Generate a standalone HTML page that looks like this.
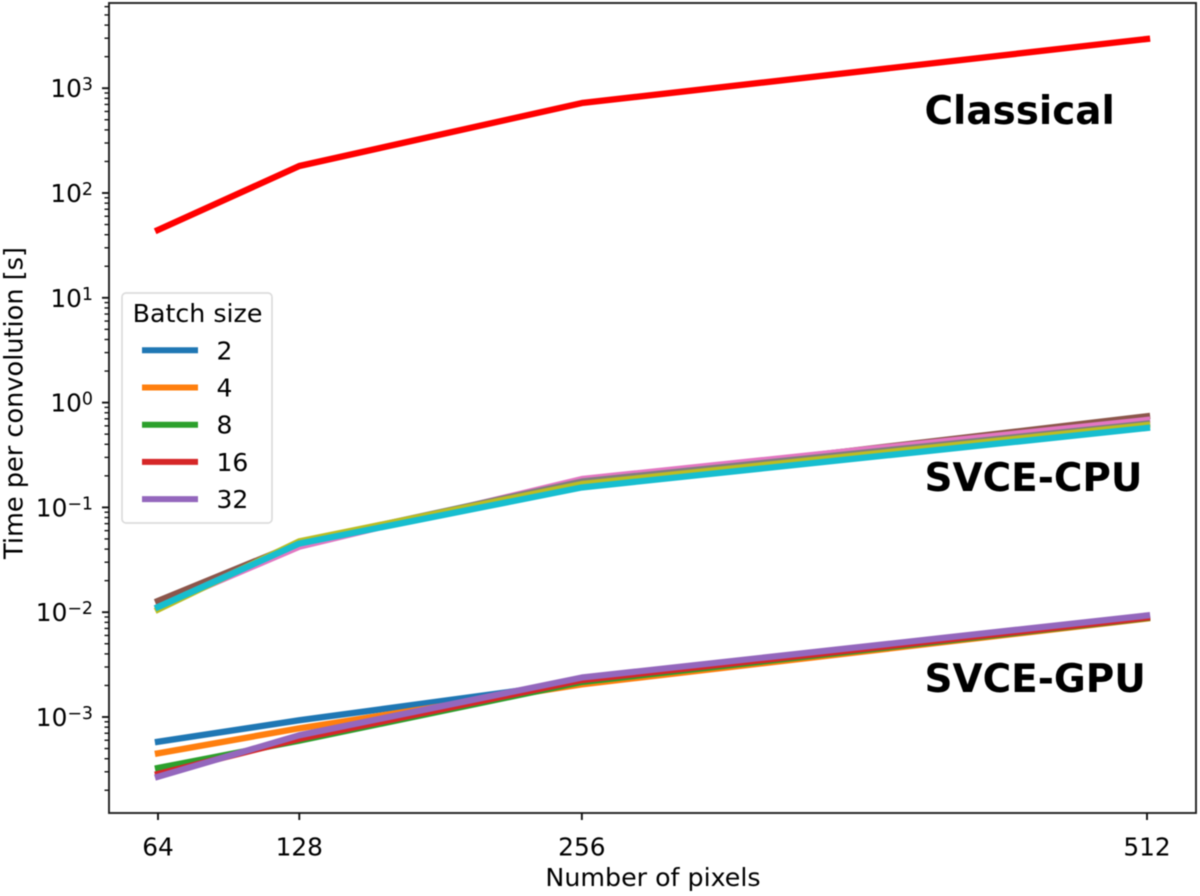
<!DOCTYPE html>
<html>
<head>
<meta charset="utf-8">
<title>Time per convolution</title>
<style>
html,body{margin:0;padding:0;background:#fff;}
svg{display:block;filter:blur(0.45px);}
text{font-family:"DejaVu Sans","Liberation Sans",sans-serif;fill:#000;}
</style>
</head>
<body>
<svg id="chart" xmlns="http://www.w3.org/2000/svg" width="1200" height="896" viewBox="0 0 1200 896">
  <rect x="0" y="0" width="1200" height="896" fill="#fff"/>
  <g id="series-layer"></g>
  <g id="axis-layer"></g>
  <g id="legend-layer"></g>
  <text x="653" y="886" font-size="25.3" text-anchor="middle">Number of pixels</text>
  <text transform="translate(22.5,403) rotate(-90)" font-size="25.6" text-anchor="middle">Time per convolution [s]</text>
  <text x="924.5" y="124" font-size="38.9" font-weight="bold">Classical</text>
  <text x="924.5" y="491" font-size="38.9" font-weight="bold">SVCE-CPU</text>
  <text x="924.5" y="692" font-size="38.9" font-weight="bold">SVCE-GPU</text>
</svg>
<script>
var pixels = [64, 128, 256, 512];
var xTicks = [64, 128, 256, 512];
var yExponents = [-3, -2, -1, 0, 1, 2, 3];
var legendTitle = 'Batch size';
var legendLabels = ['2', '4', '8', '16', '32'];

var classical = [44.4, 181, 722, 2950];

var gpu2 = [0.00058, 0.00093, 0.00215, 0.0088];
var gpu4 = [0.00045, 0.00078, 0.00205, 0.0087];
var gpu8 = [0.000326, 0.000595, 0.00216, 0.0088];
var gpu16 = [0.000286, 0.00062, 0.00225, 0.0089];
var gpu32 = [0.000269, 0.00067, 0.00238, 0.0093];

var cpu2 = [0.0128, 0.0457, 0.174, 0.74];
var cpu4 = [0.0112, 0.0422, 0.1866, 0.682];
var cpu8 = [0.0112, 0.0462, 0.1766, 0.63];
var cpu16 = [0.0106, 0.0475, 0.167, 0.61];
var cpu32 = [0.0112, 0.0452, 0.155, 0.573];

var gpuColors = ['#1f77b4', '#ff7f0e', '#2ca02c', '#d62728', '#9467bd'];
var cpuColors = ['#8c564b', '#e377c2', '#7f7f7f', '#bcbd22', '#17becf'];

var NS = 'http://www.w3.org/2000/svg';
var plot = { left: 109, right: 1196, top: 3, bottom: 813 };

function xScale(v) {
  return 158 + (v - 64) * (1147 - 158) / (512 - 64);
}
function yScale(v) {
  return 717 - (Math.log10(v) + 3) * 104.8;
}
function make(tag, attrs, parent) {
  var el = document.createElementNS(NS, tag);
  for (var k in attrs) { el.setAttribute(k, attrs[k]); }
  parent.appendChild(el);
  return el;
}

var seriesLayer = document.getElementById('series-layer');
var axisLayer = document.getElementById('axis-layer');
var legendLayer = document.getElementById('legend-layer');

function drawSeries(values, color, name) {
  var pts = values.map(function (v, i) {
    return xScale(pixels[i]).toFixed(2) + ',' + yScale(v).toFixed(2);
  }).join(' ');
  var line = make('polyline', {
    points: pts, fill: 'none', stroke: color, 'stroke-width': 6.3,
    'stroke-linecap': 'square', 'stroke-linejoin': 'round'
  }, seriesLayer);
  
  
}

drawSeries(gpu2, gpuColors[0], 'gpu-line-batch-2');
drawSeries(gpu4, gpuColors[1], 'gpu-line-batch-4');
drawSeries(gpu8, gpuColors[2], 'gpu-line-batch-8');
drawSeries(gpu16, gpuColors[3], 'gpu-line-batch-16');
drawSeries(gpu32, gpuColors[4], 'gpu-line-batch-32');
drawSeries(cpu2, cpuColors[0], 'cpu-line-batch-2');
drawSeries(cpu4, cpuColors[1], 'cpu-line-batch-4');
drawSeries(cpu8, cpuColors[2], 'cpu-line-batch-8');
drawSeries(cpu16, cpuColors[3], 'cpu-line-batch-16');
drawSeries(cpu32, cpuColors[4], 'cpu-line-batch-32');
drawSeries(classical, '#ff0000', 'classical-line');

var frame = make('rect', {
  x: plot.left, y: plot.top, width: plot.right - plot.left, height: plot.bottom - plot.top,
  fill: 'none', stroke: '#222', 'stroke-width': 1.9
}, axisLayer);



xTicks.forEach(function (v) {
  var x = xScale(v);
  var tick = make('line', { x1: x, x2: x, y1: plot.bottom, y2: plot.bottom + 7, stroke: '#111', 'stroke-width': 1.9 }, axisLayer);
  
  
  var label = make('text', { x: x, y: 855.5, 'font-size': 24.8, 'text-anchor': 'middle' }, axisLayer);
  label.textContent = String(v);
  
  
});

var firstDecade = -4;
var lastDecade = 3;
for (var d = firstDecade; d <= lastDecade; d++) {
  for (var m = 2; m <= 9; m++) {
    var my = yScale(m * Math.pow(10, d));
    if (my < plot.top || my > plot.bottom) { continue; }
    var minor = make('line', { x1: plot.left - 4.5, x2: plot.left, y1: my, y2: my, stroke: '#111', 'stroke-width': 1.4 }, axisLayer);
    
    
  }
}

yExponents.forEach(function (e) {
  var y = yScale(Math.pow(10, e));
  var tick = make('line', { x1: plot.left - 7, x2: plot.left, y1: y, y2: y, stroke: '#111', 'stroke-width': 1.9 }, axisLayer);
  
  
  var label = make('text', { x: 93, y: y + 9, 'font-size': 24.8, 'text-anchor': 'end' }, axisLayer);
  
  
  var base = make('tspan', {}, label);
  base.textContent = '10';
  var sup = make('tspan', { dy: -7, 'font-size': 17.4 }, label);
  sup.textContent = String(e).replace('-', '\u2212');
});

var legendBox = make('rect', {
  x: 122, y: 293, width: 150, height: 230, rx: 4, ry: 4,
  fill: '#fff', 'fill-opacity': 0.8, stroke: '#dcdcdc', 'stroke-width': 1.7
}, legendLayer);



var titleEl = make('text', { x: 197.5, y: 322, 'font-size': 25.3, 'text-anchor': 'middle' }, legendLayer);
titleEl.textContent = legendTitle;



legendLabels.forEach(function (lab, i) {
  var y = 350.3 + i * 37.2;
  var handle = make('line', { x1: 142, x2: 198, y1: y, y2: y, stroke: gpuColors[i], 'stroke-width': 6 }, legendLayer);
  
  
  var t = make('text', { x: 216.5, y: y + 9, 'font-size': 25 }, legendLayer);
  t.textContent = lab;
  
  
});
</script>
</body>
</html>
